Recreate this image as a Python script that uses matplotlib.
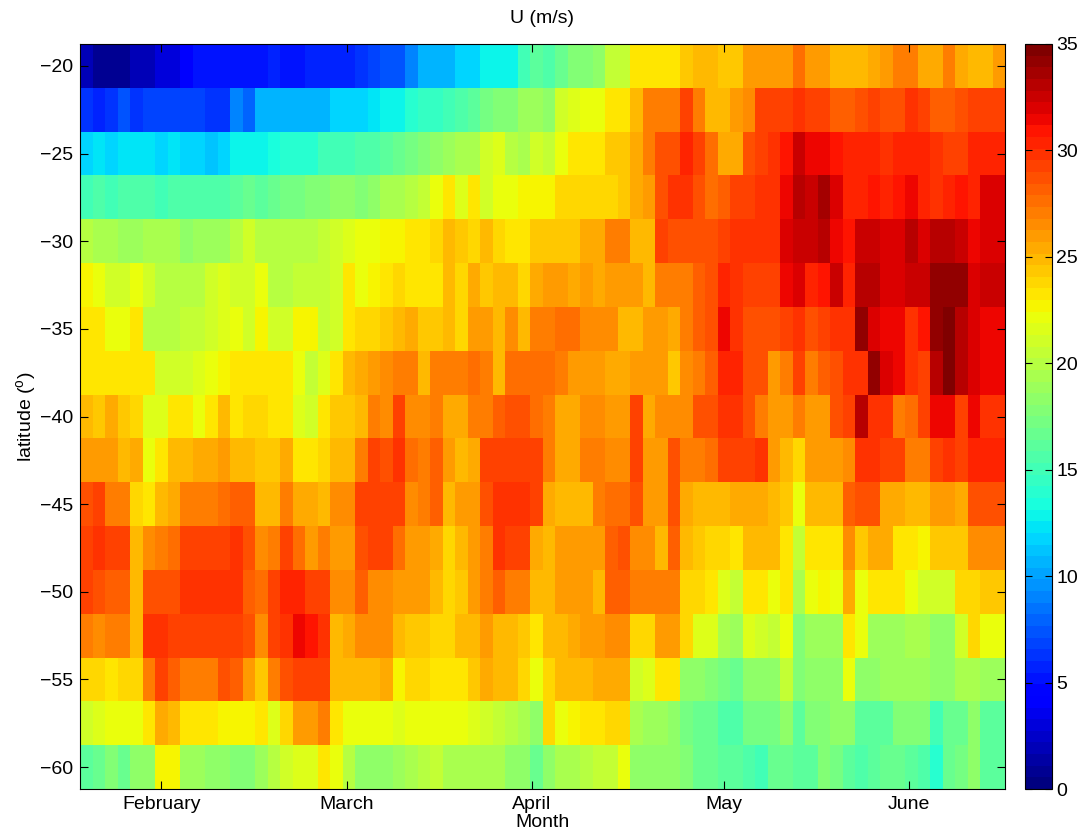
import matplotlib
matplotlib.use('Agg')
import matplotlib.pyplot as plt
import numpy as np

plt.rcParams['font.family'] = ['Liberation Sans', 'DejaVu Sans']
plt.rcParams['mathtext.fontset'] = 'custom'
plt.rcParams['mathtext.rm'] = 'Liberation Sans'
plt.rcParams['mathtext.it'] = 'Liberation Sans'

# zonal wind U (m/s), two-day bins from mid January to late June
lats = [-60, -57.5, -55, -52.5, -50, -47.5, -45, -42.5, -40,
        -37.5, -35, -32.5, -30, -27.5, -25, -22.5, -20]

u_m20 = [2, 1, 1, 1, 2, 2, 3, 3, 4, 5, 5, 5, 5, 5, 5, 6, 5, 5, 6,
         5.5, 6, 6, 6.5, 7, 7.5, 7.5, 9, 10.5, 10.5, 10.5, 11.5, 12, 13, 13, 13, 15, 16,
         15.5, 16.5, 17.5, 18, 18.5, 20.5, 20.5, 23, 23, 23, 23, 24.5, 25, 25, 24.5, 24.5, 26, 26, 26,
         26, 27.5, 26, 26, 25, 25, 25, 25.5, 26, 27, 27, 25.5, 25.5, 27, 25.5, 25, 25, 26]
u_m22_5 = [6.5, 6, 6.5, 7.5, 6.5, 7, 7, 7, 7, 7, 6.5, 6.5, 9, 8, 10.5, 10.5, 10.5, 10.5, 10.5,
           10.5, 11.5, 11.5, 11.5, 12.5, 13, 13, 14, 14.5, 14.5, 15, 15.5, 16, 17, 17.5, 18, 19, 19,
           18.5, 21, 21.5, 22, 22, 23.5, 23.5, 25, 27, 27, 27, 29, 27, 25, 25, 26, 26.5, 29, 29,
           29, 30, 29.5, 29.5, 28, 28, 28.5, 29, 28.5, 28.5, 30, 29.5, 28, 28, 28.5, 29.5, 29.5, 29]
u_m25 = [12, 12.5, 11.5, 12.5, 12.5, 12.5, 12, 12.5, 12, 12, 11, 11.5, 13, 13, 13, 13.5, 14, 14, 14,
         15, 15, 15, 15.5, 15.5, 16, 16.5, 17, 18, 18.5, 19, 19.5, 19.5, 21, 21.5, 20, 19.5, 21,
         20.5, 22, 23, 23.5, 23.5, 24.5, 24.5, 25.5, 27, 28.5, 28.5, 30.5, 29, 27.5, 25.5, 25.5, 28.5, 29.5, 30,
         31, 32.5, 31.5, 31.5, 31, 30.5, 30.5, 30.5, 30, 30.5, 30.5, 30.5, 30, 29, 29.5, 30.5, 30.5, 30.5]
u_m27_5 = [15, 15.5, 15, 15.5, 15.5, 15.5, 15, 15.5, 15.5, 15.5, 15.5, 15.5, 16, 16.5, 16, 16.5, 17, 17, 17.5,
           17.5, 18.5, 18.5, 18, 18.5, 19.5, 19.5, 20, 20.5, 22, 23, 21.5, 23, 21, 22, 22, 22.5, 22.5,
           22.5, 24, 24, 24, 24, 24, 24.5, 25.5, 26, 28.5, 30, 30, 28.5, 27.5, 28, 29, 29, 30, 30,
           31.5, 33, 32.5, 33.5, 32, 30.5, 30.5, 31, 30.5, 31, 31.5, 30.5, 30, 30.5, 31, 30.5, 32, 32]
u_m30 = [20, 19.5, 19.5, 19, 19, 19.5, 19.5, 19.5, 18.5, 19, 19, 19, 20, 21, 20, 20, 20, 20, 20,
         20.5, 21, 21.5, 22, 22, 22.5, 22.5, 23, 23.5, 24, 25, 24.5, 24, 25, 24, 23.5, 23.5, 24.5,
         24.5, 24.5, 24.5, 25.5, 25.5, 27, 27, 25, 25, 29, 28.5, 28.5, 28.5, 28.5, 29.5, 30, 30, 30, 30,
         32, 32.3, 32.3, 33, 31.5, 31, 32.3, 32.3, 32, 32, 33, 32, 33, 33, 32.5, 31.5, 32, 32]
u_m32_5 = [22.5, 22, 21, 21, 22, 21, 20, 20, 20, 20, 21, 21.5, 21, 21, 22, 20, 20, 20.5, 20.5,
           20.5, 21, 23, 22, 22.5, 23.5, 24, 23.5, 23.5, 23.5, 25, 24, 25.5, 24.5, 25, 25, 24, 25.5,
           26, 26, 25.5, 26, 25.5, 26, 26, 26, 25, 27, 27, 27, 28, 28.5, 30.5, 30, 29, 29, 29,
           31.5, 32, 30.5, 31, 32.3, 30.5, 33, 33, 32, 32, 32.5, 32.5, 34, 34, 34, 32, 32.5, 32.5]
u_m35 = [23, 23, 22, 22, 23, 20, 20, 20, 20.5, 20.5, 21, 21.5, 22, 21, 22.5, 21, 21, 22.5, 22.5,
         20.5, 21, 23.5, 24, 24, 24.5, 25, 25.5, 24.5, 24.5, 25, 24, 26, 26, 25, 26.5, 25, 27,
         27, 27.5, 27.5, 26.5, 26.5, 26.5, 25, 25, 26, 26, 25.5, 27, 28, 28.5, 31.5, 30, 28.5, 28.5, 28.5,
         29, 30, 28.5, 29.5, 30, 30, 34, 32, 31.5, 31.5, 30, 31, 34, 34.5, 33, 32, 31.5, 31.5]
u_m37_5 = [23.5, 23.5, 23.5, 23.5, 23.5, 23, 21, 21, 21, 21.5, 22, 22.5, 23, 23, 23, 23.5, 23, 22, 20.5,
           21.5, 23, 25, 25.5, 26, 26.5, 27, 27, 25, 27, 27, 27, 27.5, 27, 25, 27.5, 27.5, 27.5,
           27.5, 27, 26, 26, 26, 25.5, 25.5, 26, 26, 26, 24.5, 26.5, 27, 28, 30.5, 30.5, 28.5, 28.5, 26,
           27, 29, 27, 28, 28.5, 30, 30, 34, 32, 31.5, 30, 29, 33, 34.5, 33, 32, 31.5, 31.5]
u_m40 = [25, 24.5, 25.5, 24.5, 24, 21.5, 21.5, 23, 23, 22, 23, 25, 23.5, 24, 24, 23.5, 23, 21.5, 21,
         23.5, 24.5, 24.5, 25, 27, 26.5, 29.5, 26.5, 26.5, 27, 25.5, 25.5, 27, 27, 28, 28.5, 28.5, 27.5,
         27, 25.5, 25.5, 26.5, 26.5, 26, 26, 29, 25.5, 26.5, 26.5, 26.5, 28.5, 28.5, 30, 30, 28.5, 27, 26,
         26, 27, 26, 26, 28.5, 29.5, 33, 30, 30, 27, 27.5, 29.5, 31.5, 31.5, 29, 31.5, 30, 30]
u_m42_5 = [26, 26, 26, 25, 25.5, 22, 23.5, 25, 25, 25.5, 25.5, 26, 25, 25, 24.5, 24.5, 25.5, 23, 23,
           24, 25, 25, 27, 29, 28.5, 30, 27.5, 27, 28, 26, 25, 25.5, 29, 29.5, 29.5, 29.5, 29,
           27, 25.5, 25.5, 27, 27, 26.5, 26.5, 29, 26, 26, 28.5, 27, 27, 27.5, 29, 29, 29, 30, 26,
           25, 24, 26, 26, 26, 26.5, 30, 30, 29, 29, 27, 27, 29, 30, 29, 30.5, 30.5, 30.5]
u_m45 = [28.5, 29, 27.2, 27.2, 24, 23.3, 25, 25.5, 27, 27, 27, 27.5, 28.4, 28, 25, 25, 27, 25.5, 25.5,
         25, 26.5, 26.5, 29.5, 29.5, 29.5, 29.5, 26.5, 27, 28, 25, 26, 26, 28.5, 30, 30, 30, 29.5,
         25.5, 25, 25, 25, 27, 27.5, 27.5, 28.5, 26, 26, 28.5, 25.5, 25, 25, 25, 25.5, 25.5, 25.5, 25,
         24.5, 22, 25, 25, 25, 28, 28.5, 28.5, 25.5, 25.5, 25, 25, 26, 26, 25.5, 28.5, 28.5, 28.5]
u_m47_5 = [29.5, 30, 29, 29, 25, 26.5, 27, 27.5, 29.5, 29, 29, 29, 30, 28.5, 26.5, 27, 29, 27.5, 26,
           27, 26, 26, 28.5, 29, 29.5, 27.5, 26, 26, 25.5, 24, 25, 26, 27, 30, 29, 29, 25.5,
           25, 26, 26, 26, 26, 28, 28.5, 26.5, 26.5, 25, 28, 25, 24.5, 24, 24, 23.5, 25, 25, 25,
           23.5, 20.5, 23.5, 23.5, 23.5, 26.5, 24.5, 25.5, 25.5, 23.5, 23, 22.5, 24.5, 24.5, 24.5, 26.5, 26.5, 26.5]
u_m50 = [29, 28.5, 28, 28, 25, 28.5, 28.5, 28.5, 30, 30, 30, 30, 30, 28, 27.5, 29.5, 30.5, 30.5, 29.5,
         29.5, 26.5, 26.5, 28, 26.5, 26.5, 26, 26, 26, 25, 24, 24.5, 26, 27, 28, 27, 27, 25,
         25, 26, 26, 26, 25, 28, 28, 27, 27, 27, 27, 24, 24, 23, 21.5, 20.5, 23.5, 23.5, 22,
         23.5, 19.5, 22, 22.5, 22, 25.5, 22, 23.5, 23.5, 23.5, 22, 21, 21, 21, 24, 24, 24.5, 24.5]
u_m52_5 = [27.2, 26.5, 27.2, 27, 25, 29.6, 30, 29.5, 29, 29, 29, 29.5, 29.5, 28.5, 26.5, 29.5, 30, 31.3, 31,
           30, 25, 25.5, 26.5, 26.5, 26.5, 25, 24.5, 24.5, 24, 24, 25, 25, 26, 25, 25, 24.5, 23,
           25, 25, 25.5, 26, 26, 26.5, 26.5, 24, 24, 26, 26, 24, 21.5, 21.5, 19.5, 19, 21.5, 21, 20.5,
           22, 17.5, 19, 19, 19, 23, 22, 19, 19, 19, 19.5, 19.5, 18.5, 18.5, 21, 24, 22, 22]
u_m55 = [24, 24, 23.5, 24, 24, 27, 29, 28, 27, 27, 27, 28.5, 28, 26, 24.5, 27, 28.5, 29, 29.5,
         29.5, 25, 25, 25, 25, 25.5, 22.5, 24, 24, 23.5, 23.5, 23, 24.5, 25.5, 25, 25, 24, 22,
         24, 25, 25, 25, 25.5, 25.5, 25.5, 21, 21.5, 23.5, 23, 18.5, 18.5, 18, 17, 16.5, 18.5, 18.5, 18.5,
         20.5, 17.5, 18.5, 18.5, 18.5, 22, 18.5, 18.5, 19, 19, 19, 19, 18.5, 18.5, 19.5, 19.5, 19, 19]
u_m57_5 = [21, 21.5, 22, 22, 22, 23, 25.5, 25, 23, 23, 23.5, 22.5, 22.5, 22.5, 23, 21.5, 24, 26, 26,
           27, 23, 22, 22, 22, 22, 21.5, 22, 22, 22, 22, 22, 21.5, 21, 20.5, 20, 19.5, 18.5,
           24, 22, 22.5, 23, 23.3, 24, 24, 19.5, 19, 19, 18.5, 17, 16.5, 16.5, 15.5, 15.5, 17, 17, 17,
           18.5, 16, 18, 18, 18.5, 18.5, 16, 16, 16, 17.5, 17.5, 17.5, 15, 16.5, 16.5, 18.5, 16, 16]
u_m60 = [16, 16.5, 17.5, 16.5, 18.5, 18.5, 22.5, 22.5, 19, 19, 18.5, 18.5, 17.5, 17.5, 19, 20, 21, 21.5, 21.5,
         23, 22, 20, 18.5, 18.5, 18.5, 19, 19.5, 20, 20.5, 19.5, 19.5, 19.5, 19.5, 19.5, 18.5, 18.5, 16.5,
         18.5, 19.5, 19.5, 20, 20.5, 20.5, 22, 18.5, 18.5, 18.5, 18.5, 17.5, 16.5, 16.5, 16, 16, 15.5, 15, 16.5,
         16.5, 16, 16, 17.5, 17, 16, 15.5, 16, 16.5, 16.5, 16, 15.5, 14, 16.5, 17, 18.5, 16, 16]

month_names = ['February', 'March', 'April', 'May', 'June']
month_days = [13, 42.7, 72.3, 103, 132.6]

U = np.array([u_m60, u_m57_5, u_m55, u_m52_5, u_m50, u_m47_5, u_m45, u_m42_5, u_m40,
              u_m37_5, u_m35, u_m32_5, u_m30, u_m27_5, u_m25, u_m22_5, u_m20])
day_edges = np.arange(U.shape[1] + 1) * 2.0
lat_step = 2.5
lat_edges = np.append(np.array(lats) - lat_step / 2, lats[-1] + lat_step / 2)

fig = plt.figure(figsize=(10.81, 8.31), dpi=100)
ax = fig.add_axes([80 / 1081, 1 - 789 / 831, 925 / 1081, 745 / 831])
cax = fig.add_axes([1025 / 1081, 1 - 789 / 831, 27 / 1081, 745 / 831])

cmap = plt.get_cmap('jet', 64)
mesh = ax.pcolormesh(day_edges, lat_edges, U, cmap=cmap, vmin=0, vmax=35, shading='flat')

ax.set_xlim(day_edges[0], day_edges[-1])
ax.set_ylim(lat_edges[0], lat_edges[-1])
ax.set_xticks(month_days)
ax.set_xticklabels(month_names)
ax.set_yticks(np.arange(-60, -19, 5))
ax.tick_params(direction='in', length=6, width=0.8, labelsize=14,
               top=True, right=True, pad=5)
ax.set_xlabel('Month', fontsize=14, labelpad=1)
ax.set_ylabel(r'latitude ($^{\mathrm{o}}$)', fontsize=14, labelpad=1)
ax.set_title('U (m/s)', fontsize=14, pad=15)
for s in ax.spines.values():
    s.set_linewidth(0.8)

cb = fig.colorbar(mesh, cax=cax)
cb.set_ticks(np.arange(0, 36, 5))
cb.ax.tick_params(direction='in', length=5, width=0.8, labelsize=14, left=True, right=True, pad=3)
cb.outline.set_linewidth(0.8)

fig.savefig('out.png', dpi=100)
